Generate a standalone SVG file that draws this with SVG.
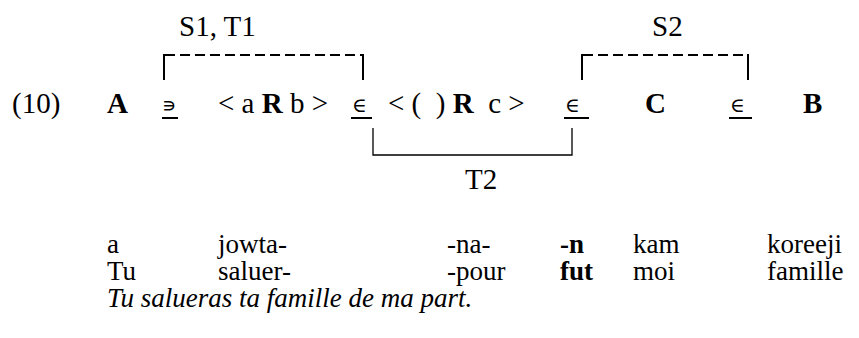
<svg xmlns="http://www.w3.org/2000/svg" width="859" height="338" viewBox="0 0 859 338">
<rect width="859" height="338" fill="#fff"/>
<g id="labels-top">
<text x="179" y="36" font-family="Liberation Serif" font-size="29">S1, T1</text>
<text x="652" y="36" font-family="Liberation Serif" font-size="29">S2</text>
</g>
<g id="connectors" fill="none" stroke="#000" stroke-width="2">
<path d="M164,80V54"/>
<path d="M165,55H362" stroke-dasharray="10 5"/>
<path d="M363,80V54"/>
<path d="M582,80V54"/>
<path d="M583,55H747" stroke-dasharray="10 5"/>
<path d="M748,80V54"/>
<path d="M373,128V155H572V128" stroke-width="1.3"/>
<path d="M162,118H178M351,118H372M564,118H589M729,118H752"/>
</g>
<g id="formula">
<text x="12" y="113" font-family="Liberation Serif" font-size="29">(10)</text>
<text x="107" y="113" font-family="Liberation Serif" font-size="29" font-weight="bold">A</text>
<text x="162" y="112" font-family="DejaVu Serif" font-size="20">∍</text>
<text x="218" y="113" font-family="Liberation Serif" font-size="29">&lt; a <tspan font-weight="bold">R</tspan> b &gt;</text>
<text x="352" y="112" font-family="DejaVu Serif" font-size="20">∈</text>
<text x="388" y="113" font-family="Liberation Serif" font-size="29" xml:space="preserve">&lt; (  ) <tspan font-weight="bold">R</tspan>  c &gt;</text>
<text x="565" y="112" font-family="DejaVu Serif" font-size="20">∈</text>
<text x="645" y="113" font-family="Liberation Serif" font-size="29" font-weight="bold">C</text>
<text x="730" y="112" font-family="DejaVu Serif" font-size="20">∈</text>
<text x="803" y="113" font-family="Liberation Serif" font-size="29" font-weight="bold">B</text>
</g>
<g id="label-t2">
<text x="465" y="189" font-family="Liberation Serif" font-size="29">T2</text>
</g>
<g id="gloss">
<text x="107" y="253" font-family="Liberation Serif" font-size="27">a</text>
<text x="218" y="253" font-family="Liberation Serif" font-size="27">jowta-</text>
<text x="447" y="253" font-family="Liberation Serif" font-size="27">-na-</text>
<text x="560" y="253" font-family="Liberation Serif" font-size="27" font-weight="bold">-n</text>
<text x="633" y="253" font-family="Liberation Serif" font-size="27">kam</text>
<text x="767" y="253" font-family="Liberation Serif" font-size="27">koreeji</text>
<text x="107" y="280" font-family="Liberation Serif" font-size="27">Tu</text>
<text x="218" y="280" font-family="Liberation Serif" font-size="27">saluer-</text>
<text x="447" y="280" font-family="Liberation Serif" font-size="27">-pour</text>
<text x="560" y="280" font-family="Liberation Serif" font-size="27" font-weight="bold">fut</text>
<text x="633" y="280" font-family="Liberation Serif" font-size="27">moi</text>
<text x="767" y="280" font-family="Liberation Serif" font-size="27">famille</text>
<text x="107" y="307" font-family="Liberation Serif" font-size="27" font-style="italic">Tu salueras ta famille de ma part.</text>
</g>
</svg>
